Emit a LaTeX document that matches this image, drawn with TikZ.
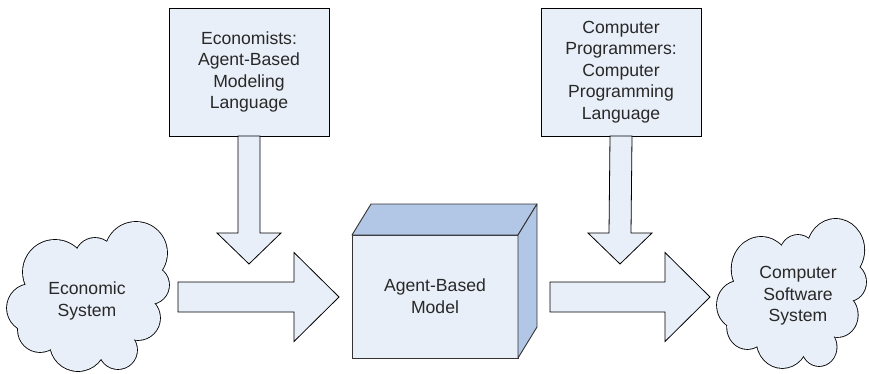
\documentclass[tikz,border=0pt]{standalone}
\usepackage{fontspec}
\setmainfont{Liberation Sans}
\usepackage{tikz}
\usetikzlibrary{positioning, calc}
\definecolor{boxfill}{RGB}{233,239,248}
\definecolor{cubeshade}{RGB}{178,199,229}
\definecolor{txtgray}{RGB}{40,40,40}

% wide block arrows: right-pointing from start to tip, down-pointing from start to tip
\newcommand{\rightblock}[2]{%
  \draw[blockarrow] ($(#1)+(0,-15)$) -- ($(#2)+(-45,-15)$) -- ($(#2)+(-45,-44.5)$) -- (#2)
    -- ($(#2)+(-45,44.5)$) -- ($(#2)+(-45,15)$) -- ($(#1)+(0,15)$) -- cycle;}
\newcommand{\downblock}[2]{%
  \draw[blockarrow] ($(#1)+(-11,0)$) -- ($(#2)+(-11,-31)$) -- ($(#2)+(-32,-31)$) -- (#2)
    -- ($(#2)+(32,-31)$) -- ($(#2)+(11,-31)$) -- ($(#1)+(11,0)$) -- cycle;}
% cloud outline: overlapping puffs (x/y/r) round a core ellipse, centred on (0,0)
\newcommand{\cloudpuffs}{-33/-25/32, 7/-39/20, 48/-44/31, 62/-12/19, 50/21/22,
                         30/53/19, -10/46/28, -48/33/22, -57/11/24}
\newcommand{\puffcloud}{%
  \foreach \cx/\cy/\cr in \cloudpuffs \draw[line width=1.7pt] (\cx,\cy) circle[radius=\cr pt];
  \draw[line width=1.7pt] (0,3) ellipse[x radius=58pt, y radius=42pt];
  \foreach \cx/\cy/\cr in \cloudpuffs \fill[boxfill] (\cx,\cy) circle[radius=\cr pt];
  \fill[boxfill] (0,3) ellipse[x radius=58pt, y radius=42pt];}

\begin{document}
\begin{tikzpicture}[x=1pt, y=-1pt,
    every node/.style={font=\fontsize{17.6}{21.6}\selectfont, text=txtgray, align=center},
    langbox/.style={draw=black, line width=0.9pt, fill=boxfill, minimum width=160pt,
                    minimum height=128pt, outer sep=0pt},
    cubefront/.style={draw=black!80, line width=0.9pt, fill=boxfill, minimum width=166pt,
                      minimum height=123pt, outer sep=0pt},
    cubeside/.style={draw=black!80, line width=0.9pt, fill=cubeshade, line join=round},
    blockarrow/.style={draw=black, line width=0.8pt, fill=boxfill, line join=miter}]
  \useasboundingbox (0,0) rectangle (869,374);

  % language boxes along the top
  \node[langbox] (econlang) at (249,72) {Economists:\\Agent-Based\\Modeling\\Language};
  \node[langbox] (proglang) at (621,72) {Computer\\Programmers:\\Computer\\Programming\\Language};

  % the systems on either side
  \begin{scope}[shift={(88,297)}]
    \puffcloud
  \end{scope}
  \node (econ) at (87,301) {Economic\\System};
  \begin{scope}[shift={(791.5,294)}, xscale=0.92]
    \puffcloud
  \end{scope}
  \node (soft) at (798,296) {Computer\\Software\\System};

  % the model as a box in perspective
  \node[cubefront] (abm) at (435,296.5) {};
  \draw[cubeside] (abm.north west) -- ++(19,-31) -- ++(166,0) -- (abm.north east) -- cycle;
  \draw[cubeside] (abm.north east) -- ++(19,-31) -- ++(0,123) -- (abm.south east) -- cycle;
  \node at (abm) {Agent-Based\\Model};

  % arrow ends
  \coordinate (econtip) at (249,264);
  \coordinate (progtip) at (620,264);
  \coordinate (in1) at (178,297);
  \coordinate (in1tip) at (339,297);
  \coordinate (out1) at (550,297);
  \coordinate (out1tip) at (710,297);

  \downblock{econlang.south}{econtip}
  \downblock{proglang.south}{progtip}
  \rightblock{in1}{in1tip}
  \rightblock{out1}{out1tip}
\end{tikzpicture}
\end{document}
